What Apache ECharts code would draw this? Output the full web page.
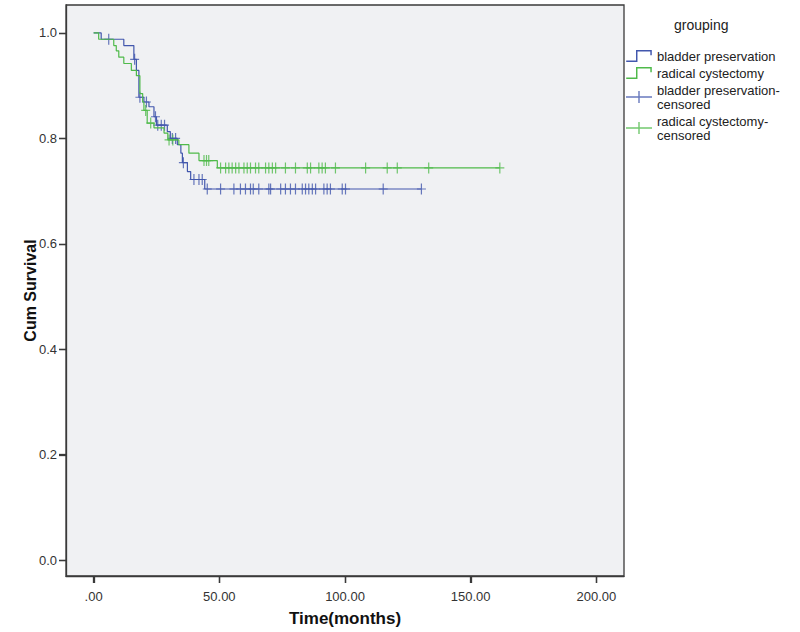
<!DOCTYPE html>
<html><head><meta charset="utf-8">
<script src="https://cdn.jsdelivr.net/npm/echarts@6/dist/echarts.min.js"></script>
<style>html,body{margin:0;padding:0;background:#fff}#c{width:800px;height:632px}</style>
</head><body><div id="c"></div>
<script>
const xTicks = [0, 50, 100, 150, 200];
const yTicks = [0, 0.2, 0.4, 0.6, 0.8, 1.0];
const groups = ['bladder preservation', 'radical cystectomy'];

const bpTime = [0, 3, 12, 16, 17, 18, 20, 22, 24, 25, 29.3, 30.5, 33.3, 34.7, 35.3, 37.3, 38.6, 44.2];
const bpSurv = [1.0, 0.988, 0.976, 0.95, 0.929, 0.878, 0.869, 0.86, 0.841, 0.825, 0.813, 0.80, 0.788, 0.772, 0.754, 0.737, 0.722, 0.704];
const bpEnd = 130.4;
const bpCensored = [6, 16.3, 18.4, 21, 24.6, 25.5, 26.9, 28.2, 31.3, 32.6, 35.7, 39.9, 41.9, 43.2, 45.2, 50.5, 55.8, 58.4, 60.4, 62.4, 63.5, 65.7, 69.7, 70.4, 74.4, 76.3, 78.3, 80.3, 83, 84.3, 85.6, 87, 88.3, 91.6, 92.9, 94.2, 98.9, 100.2, 115.2, 130.4];

const rcTime = [0, 2, 8, 9, 10, 12, 15, 17, 18.4, 19.5, 20, 21.3, 24, 28, 29.5, 33.9, 37.9, 41.9, 49.2];
const rcSurv = [1.0, 0.988, 0.976, 0.966, 0.954, 0.942, 0.929, 0.919, 0.885, 0.869, 0.853, 0.829, 0.82, 0.81, 0.797, 0.788, 0.772, 0.758, 0.744];
const rcEnd = 161.6;
const rcCensored = [20.7, 22.7, 30, 31.5, 43.9, 44.9, 45.8, 50.5, 52.5, 53.8, 55.1, 56.5, 57.8, 59.8, 61.1, 62.4, 64.4, 65.7, 68.4, 69.7, 71.1, 72.4, 76.3, 80.3, 85, 86.3, 89.6, 90.9, 92.2, 96.2, 108.2, 116.8, 120.8, 133.3, 161.6];

const X_MIN = -11, X_MAX = 211, Y_MIN = -0.03, Y_MAX = 1.053;
const BLUE = '#4257ad', GREEN = '#4fba4a';

(function () {
function stepData(times, survs, end) {
  const d = times.map((t, i) => [t, survs[i]]);
  d.push([end, survs[survs.length - 1]]);
  return d;
}
function survAt(times, survs, t) {
  let s = survs[0];
  for (let i = 0; i < times.length; i++) if (times[i] <= t) s = survs[i];
  return s;
}
function censData(cens, times, survs) {
  return cens.map(t => [t, survAt(times, survs, t)]);
}

const crossSym = 'path://M-0.6,-5.5L0.6,-5.5L0.6,5.5L-0.6,5.5Z M-4.5,-0.6L4.5,-0.6L4.5,0.6L-4.5,0.6Z';
const stepIcon = 'path://M0,10.3h10.7v1.4H0Z M9.3,0.3h1.4v11.4H9.3Z M9.3,0.3h15v1.4h-15Z M22.9,0.3h1.4v5h-1.4Z';
const crossIcon = 'path://M0,5.3h26v1.4H0Z M12.3,0h1.4v12h-1.4Z';
const FONT = 'Liberation Sans, Arial, sans-serif';
const AX = '#3a3a3a';

const chart = echarts.init(document.getElementById('c'), null, { renderer: 'svg' });
chart.setOption({
  animation: false,
  backgroundColor: '#ffffff',
  textStyle: { fontFamily: FONT },
  title: {
    text: 'grouping', left: 669, top: 13,
    textStyle: { fontSize: 14, fontWeight: 'normal', color: '#222', fontFamily: FONT }
  },
  legend: {
    orient: 'vertical', left: 621, top: 44, itemWidth: 26, itemHeight: 12, itemGap: 3,
    textStyle: { fontSize: 13, color: '#222', lineHeight: 14, fontFamily: FONT },
    formatter: n => n.replace('-censored', '-\ncensored'),
    data: [
      { name: groups[0], icon: stepIcon, itemStyle: { color: BLUE } },
      { name: groups[1], icon: stepIcon, itemStyle: { color: GREEN } },
      { name: groups[0] + '-censored', icon: crossIcon, itemStyle: { color: BLUE } },
      { name: groups[1] + '-censored', icon: crossIcon, itemStyle: { color: GREEN } }
    ]
  },
  grid: { left: 66, right: 176, top: 5, bottom: 49, show: true, backgroundColor: '#f0f1f3', borderColor: AX, borderWidth: 1.3 },
  xAxis: {
    type: 'value', min: X_MIN, max: X_MAX,
    name: 'Time(months)', nameLocation: 'middle', nameGap: 34,
    nameTextStyle: { fontSize: 17, fontWeight: 'bold', color: '#111', fontFamily: FONT },
    axisLine: { show: true, onZero: false, lineStyle: { color: AX, width: 1.3 } },
    splitLine: { show: false },
    axisTick: { show: true, length: 7, customValues: xTicks, lineStyle: { color: AX, width: 1.3 } },
    axisLabel: { customValues: xTicks, fontSize: 13, color: '#333', margin: 14,
      formatter: v => v === 0 ? '.00' : v.toFixed(2) }
  },
  yAxis: {
    type: 'value', min: Y_MIN, max: Y_MAX,
    axisLine: { show: true, onZero: false, lineStyle: { color: AX, width: 1.3 } },
    splitLine: { show: false },
    axisTick: { show: true, length: 7, customValues: yTicks, lineStyle: { color: AX, width: 1.3 } },
    axisLabel: { customValues: yTicks, fontSize: 13, color: '#333', margin: 9, formatter: v => v.toFixed(1) }
  },
  series: [
    { name: groups[0], type: 'line', step: 'end', showSymbol: false, color: BLUE,
      lineStyle: { width: 1.2, color: BLUE }, data: stepData(bpTime, bpSurv, bpEnd) },
    { name: groups[1], type: 'line', step: 'end', showSymbol: false, color: GREEN,
      lineStyle: { width: 1.2, color: GREEN }, data: stepData(rcTime, rcSurv, rcEnd) },
    { name: groups[0] + '-censored', type: 'scatter', symbol: crossSym, symbolSize: [9, 11], color: BLUE,
      itemStyle: { color: BLUE }, data: censData(bpCensored, bpTime, bpSurv) },
    { name: groups[1] + '-censored', type: 'scatter', symbol: crossSym, symbolSize: [9, 11], color: GREEN,
      itemStyle: { color: GREEN }, data: censData(rcCensored, rcTime, rcSurv) }
  ]
});

// axis ticks positioned through the chart's own scales
const plotLeft = chart.convertToPixel({ xAxisIndex: 0 }, X_MIN);
const plotBottom = chart.convertToPixel({ yAxisIndex: 0 }, Y_MIN);
const plotTop = chart.convertToPixel({ yAxisIndex: 0 }, Y_MAX);
const tickStyle = { stroke: AX, lineWidth: 1.3 };
const g = [];
xTicks.forEach(v => {
  const p = Math.round(chart.convertToPixel({ xAxisIndex: 0 }, v)) + 0.5;
  g.push({ type: 'line', silent: true, z: 50, shape: { x1: p, y1: plotBottom, x2: p, y2: plotBottom + 7 }, style: tickStyle });
});
yTicks.forEach(v => {
  const p = Math.round(chart.convertToPixel({ yAxisIndex: 0 }, v)) + 0.5;
  g.push({ type: 'line', silent: true, z: 50, shape: { x1: plotLeft - 7, y1: p, x2: plotLeft, y2: p }, style: tickStyle });
});
g.push({
  type: 'text', silent: true, z: 50, x: 30, y: (plotTop + plotBottom) / 2, rotation: Math.PI / 2,
  style: { text: 'Cum Survival', fill: '#111', font: 'bold 16px ' + FONT, align: 'center', verticalAlign: 'middle' }
});
chart.setOption({ graphic: g });
})();
</script></body></html>
